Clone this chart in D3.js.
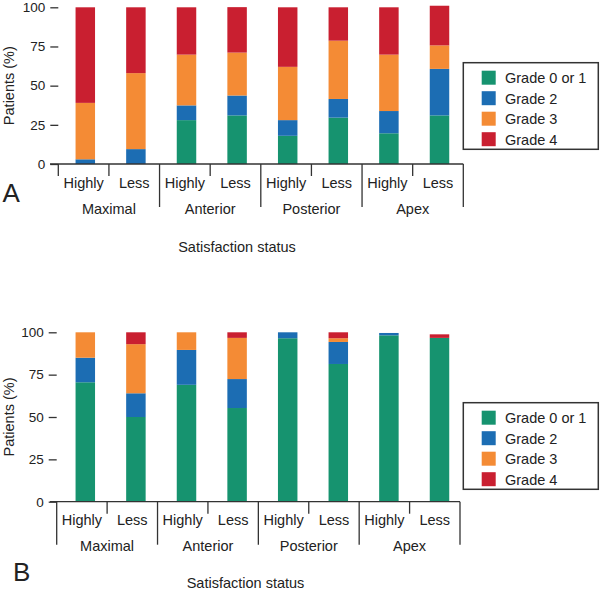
<!DOCTYPE html>
<html>
<head>
<meta charset="utf-8">
<script src="https://cdn.jsdelivr.net/npm/d3@7"></script>
<style>
  html, body { margin: 0; padding: 0; background: #fff; }
  svg { display: block; font-family: "Liberation Sans", Arial, Helvetica, sans-serif; }
</style>
</head>
<body>
<svg id="chart" width="601" height="592"></svg>
<script>
// ---- data ----
const groups = ["Maximal", "Anterior", "Posterior", "Apex"];
const statuses = ["Highly", "Less"];
const grades = ["Grade 0 or 1", "Grade 2", "Grade 3", "Grade 4"];
const gradeColors = ["#16936f", "#1c6db3", "#f48b35", "#c91f30"];
const yTicks = [0, 25, 50, 75, 100];
const xTitle = "Satisfaction status";
const yTitle = "Patients (%)";

// Panel A values (8 bars: Maximal-Highly, Maximal-Less, Anterior-Highly, ...)
const gradeA01 = [0, 0, 28, 31, 18, 29.6, 19.6, 31];
const gradeA2  = [3, 9.5, 9.4, 12.7, 10, 11.9, 14.2, 29.7];
const gradeA3  = [36, 48.5, 32.4, 27.4, 34, 37.2, 36, 15];
const gradeA4  = [61, 42, 30.2, 29, 38, 21.3, 30.2, 25.3];

// Panel B values
const gradeB01 = [70.5, 50, 69, 55.3, 96.5, 81.3, 98.2, 96.7];
const gradeB2  = [14.5, 14, 20.6, 17.1, 3.5, 13, 1.4, 0];
const gradeB3  = [15, 29, 10.4, 24.3, 0, 2.2, 0, 0];
const gradeB4  = [0, 7, 0, 3.3, 0, 3.5, 0, 2.1];

// ---- build ----
const bars = [];
groups.forEach(g => statuses.forEach(s => bars.push(g + "|" + s)));

function table(a, b, c, d) {
  return bars.map((k, i) => ({ key: k, g0: a[i], g1: b[i], g2: c[i], g3: d[i] }));
}

const panels = [
  { letter: "A", data: table(gradeA01, gradeA2, gradeA3, gradeA4),
    y0: 164, y1: 7.3, axisX: [58.3, 463.3], firstLong: false,
    letterX: 2.5, letterY: 201.7, titleX: 237, titleY: 252,
    legendTop: 62.7 },
  { letter: "B", data: table(gradeB01, gradeB2, gradeB3, gradeB4),
    y0: 501.7, y1: 332.3, axisX: [56.7, 460], firstLong: true,
    letterX: 13, letterY: 580.7, titleX: 245.5, titleY: 588,
    legendTop: 402.7 }
];

const svg = d3.select("#chart");
const lineColor = "#333";
const stackGen = d3.stack().keys(["g0", "g1", "g2", "g3"]);
const barX = d3.scaleBand().domain(bars).range([60, 464.8]).paddingInner(0.615).paddingOuter(0.3075);

panels.forEach(p => {
  const g = svg.append("g");
  const y = d3.scaleLinear().domain([0, 100]).range([p.y0, p.y1]);
  const halfX = d3.scaleBand().domain(bars).range(p.axisX);
  const groupX = d3.scaleBand().domain(groups).range(p.axisX);

  // bars
  const series = stackGen(p.data);
  g.selectAll("g.series").data(series).join("g")
    .attr("fill", (d, i) => gradeColors[i])
    .selectAll("rect").data(d => d.filter(v => v[1] - v[0] > 0)).join("rect")
    .attr("x", d => barX(d.data.key))
    .attr("width", barX.bandwidth())
    .attr("y", d => y(d[1]))
    .attr("height", d => y(d[0]) - y(d[1]));

  // y axis ticks (no vertical line)
  const yAxis = d3.axisLeft(y).tickValues(yTicks).tickSize(8).tickPadding(5);
  const ya = g.append("g").attr("transform", `translate(${p.axisX[0]},0)`).call(yAxis);
  ya.select(".domain").remove();
  ya.selectAll(".tick line").attr("stroke", lineColor).attr("stroke-width", 1.3);
  ya.selectAll(".tick text").attr("font-size", 13.5).attr("fill", "#222")
    .attr("font-family", "Liberation Sans, Arial, sans-serif");

  // baseline
  g.append("line")
    .attr("x1", 50).attr("x2", p.axisX[1])
    .attr("y1", y(0)).attr("y2", y(0))
    .attr("stroke", lineColor).attr("stroke-width", 1.3);

  // separators
  const bounds = d3.range(bars.length + 1);
  g.selectAll("line.sep").data(bounds).join("line")
    .attr("class", "sep")
    .attr("x1", i => i < bars.length ? halfX(bars[i]) : p.axisX[1])
    .attr("x2", i => i < bars.length ? halfX(bars[i]) : p.axisX[1])
    .attr("y1", y(0))
    .attr("y2", i => y(0) + ((i % 2 === 0 && (i > 0 || p.firstLong)) ? 43 : 12))
    .attr("stroke", lineColor).attr("stroke-width", 1.3);

  // status labels
  g.selectAll("text.status").data(bars).join("text")
    .attr("class", "status")
    .attr("x", k => halfX(k) + halfX.bandwidth() / 2)
    .attr("y", y(0) + 23.5)
    .attr("text-anchor", "middle")
    .attr("font-size", 14.5).attr("fill", "#222")
    .text(k => k.split("|")[1]);

  // group labels
  g.selectAll("text.group").data(groups).join("text")
    .attr("class", "group")
    .attr("x", d => groupX(d) + groupX.bandwidth() / 2)
    .attr("y", y(0) + 49.5)
    .attr("text-anchor", "middle")
    .attr("font-size", 14.5).attr("fill", "#222")
    .text(d => d);

  // axis titles
  g.append("text")
    .attr("x", p.titleX).attr("y", p.titleY)
    .attr("text-anchor", "middle")
    .attr("font-size", 14.5).attr("fill", "#222")
    .text(xTitle);
  g.append("text")
    .attr("transform", `translate(14,${(p.y0 + p.y1) / 2}) rotate(-90)`)
    .attr("text-anchor", "middle")
    .attr("font-size", 14.5).attr("fill", "#222")
    .text(yTitle);

  // panel letter
  g.append("text")
    .attr("x", p.letterX).attr("y", p.letterY)
    .attr("font-size", 26).attr("fill", "#222")
    .text(p.letter);

  // legend
  const lg = g.append("g").attr("transform", `translate(463.3,${p.legendTop})`);
  lg.append("rect")
    .attr("width", 135).attr("height", 86.6)
    .attr("fill", "none").attr("stroke", lineColor).attr("stroke-width", 1.5);
  const items = lg.selectAll("g.item").data(grades).join("g")
    .attr("class", "item")
    .attr("transform", (d, i) => `translate(18.4,${8 + i * 20.5})`);
  items.append("rect").attr("width", 14).attr("height", 14)
    .attr("fill", (d, i) => gradeColors[i]);
  items.append("text").attr("x", 23.3).attr("y", 12.7)
    .attr("font-size", 14.5).attr("fill", "#222")
    .text(d => d);
});
</script>
</body>
</html>
